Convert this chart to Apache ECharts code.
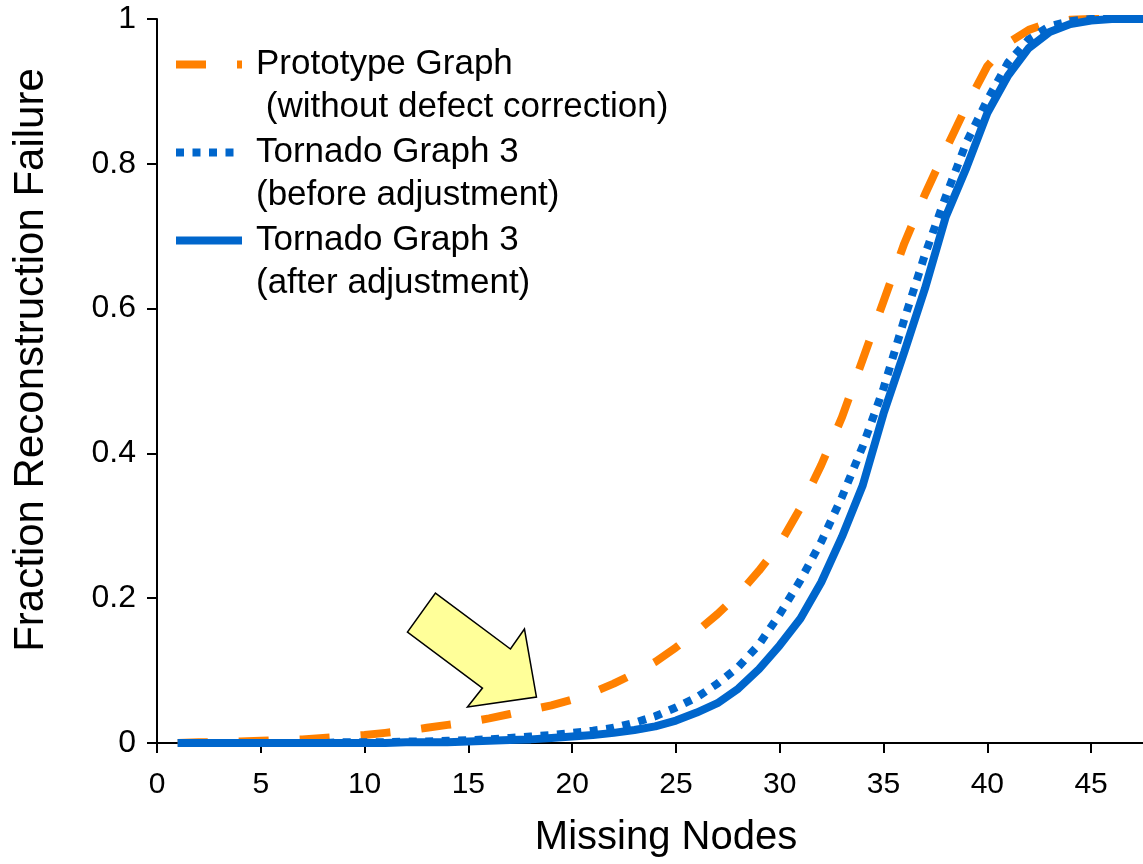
<!DOCTYPE html>
<html>
<head>
<meta charset="utf-8">
<title>Fraction Reconstruction Failure</title>
<script src="https://cdn.jsdelivr.net/npm/echarts@6/dist/echarts.min.js"></script>
<style>
  html, body { margin: 0; padding: 0; background: #fff; }
  #chart { width: 1143px; height: 864px; }
</style>
</head>
<body>
<div id="chart"></div>
<script>
// missing nodes (x)
const nodes = [1, 2, 3, 4, 5, 6, 7, 8, 9, 10, 11, 12, 13, 14, 15, 16, 17, 18, 19, 20,
  21, 22, 23, 24, 25, 26, 27, 28, 29, 30, 31, 32, 33, 34, 35, 36, 37, 38, 39, 40,
  41, 42, 43, 44, 45, 46, 47, 48]

const prototypeGraph = [0.000, 0.001, 0.001, 0.002, 0.003, 0.004, 0.005, 0.007, 0.009, 0.011,
  0.014, 0.017, 0.021, 0.025, 0.029, 0.034, 0.040, 0.046, 0.052, 0.060,
  0.070, 0.082, 0.096, 0.112, 0.132, 0.154, 0.178, 0.205, 0.238, 0.275,
  0.325, 0.384, 0.450, 0.530, 0.610, 0.690, 0.758, 0.820, 0.880, 0.935,
  0.967, 0.985, 0.995, 0.999, 1.000, 1.000, 1.000, 1.000]

const tornadoBefore = [0.000, 0.000, 0.000, 0.000, 0.000, 0.000, 0.000, 0.000, 0.001, 0.001,
  0.001, 0.002, 0.002, 0.003, 0.004, 0.005, 0.007, 0.009, 0.011, 0.014,
  0.017, 0.021, 0.028, 0.037, 0.049, 0.063, 0.082, 0.105, 0.136, 0.178,
  0.225, 0.278, 0.340, 0.410, 0.490, 0.585, 0.675, 0.755, 0.830, 0.888,
  0.940, 0.972, 0.990, 0.997, 1.000, 1.000, 1.000, 1.000]

const tornadoAfter = [0.000, 0.000, 0.000, 0.000, 0.000, 0.000, 0.000, 0.000, 0.000, 0.000,
  0.000, 0.001, 0.001, 0.001, 0.002, 0.003, 0.004, 0.005, 0.007, 0.009,
  0.011, 0.014, 0.018, 0.023, 0.031, 0.042, 0.055, 0.075, 0.102, 0.135,
  0.172, 0.222, 0.285, 0.356, 0.455, 0.540, 0.628, 0.727, 0.795, 0.870,
  0.922, 0.960, 0.982, 0.993, 0.998, 1.000, 1.000, 1.000]

const seriesNames = [
  'Prototype Graph\n (without defect correction)',
  'Tornado Graph 3\n(before adjustment)',
  'Tornado Graph 3\n(after adjustment)'
]

const xTicks = [0, 5, 10, 15, 20, 25, 30, 35, 40, 45]

// arrow annotation tip, in data units
const arrowTip = [18.28, 0.0635]

const font = '"Liberation Sans", Arial, sans-serif'
const orange = '#ff8000'
const blue = '#0066cc'

const chart = echarts.init(document.getElementById('chart'))

const pairs = vals => nodes.map((n, i) => [n, vals[i]])

const styles = [
  { color: orange, width: 8, type: [30, 31] },
  { color: blue, width: 8, type: [8, 8.5] },
  { color: blue, width: 8, type: 'solid' }
]

chart.setOption({
  animation: false,
  grid: { left: 157, right: 0, top: 19, bottom: 121 },
  legend: {
    orient: 'vertical',
    left: 172,
    top: 0,
    padding: 0,
    itemGap: -41,
    itemWidth: 66,
    itemHeight: 14,
    selectedMode: false,
    // empty first line keeps the icon level with the first text line
    formatter: name => '\n' + name,
    data: seriesNames.map((n, i) => ({ name: n, lineStyle: styles[i], itemStyle: { opacity: 0 } })),
    textStyle: {
      fontFamily: font,
      fontSize: 35,
      color: '#000',
      lineHeight: 43,
      padding: [0, 0, 0, 9]
    }
  },
  xAxis: {
    type: 'value',
    min: 0,
    max: 47.5,
    interval: 5,
    name: 'Missing Nodes',
    nameLocation: 'middle',
    nameGap: 75,
    nameTextStyle: { fontFamily: font, fontSize: 40, color: '#000', padding: [0, 0, 0, 32] },
    axisLine: { onZero: false, lineStyle: { color: '#000', width: 2 } },
    axisTick: { customValues: xTicks, length: 10, lineStyle: { color: '#000', width: 2 } },
    axisLabel: { customValues: xTicks, margin: 27, fontFamily: font, fontSize: 30, color: '#000' },
    splitLine: { show: false }
  },
  yAxis: {
    type: 'value',
    min: 0,
    max: 1,
    interval: 0.2,
    name: 'Fraction Reconstruction Failure',
    nameLocation: 'middle',
    nameGap: 105,
    nameTextStyle: { fontFamily: font, fontSize: 42, color: '#000', padding: [0, 0, 0, 42] },
    axisLine: { show: true, lineStyle: { color: '#000', width: 2 } },
    axisTick: { show: true, length: 10, lineStyle: { color: '#000', width: 2 } },
    axisLabel: { margin: 21, fontFamily: font, fontSize: 32, color: '#000' },
    splitLine: { show: false }
  },
  series: [prototypeGraph, tornadoBefore, tornadoAfter].map((vals, i) => ({
    name: seriesNames[i],
    type: 'line',
    data: pairs(vals),
    symbol: 'none',
    showSymbol: false,
    clip: true,
    color: styles[i].color,
    lineStyle: styles[i],
    z: 2 + i
  }))
})

// yellow arrow pointing at the curves, anchored on a data point
const tip = chart.convertToPixel({ gridIndex: 0 }, arrowTip)
const arrowShape = [[-101, -104], [-26, -48], [-12, -68], [0, 0], [-69, 10], [-54, -9], [-129, -65]]
chart.setOption({
  graphic: [{
    type: 'polygon',
    z: 100,
    shape: { points: arrowShape.map(p => [tip[0] + p[0], tip[1] + p[1]]) },
    style: { fill: '#ffff99', stroke: '#000', lineWidth: 1.5 }
  }]
})
</script>
</body>
</html>
